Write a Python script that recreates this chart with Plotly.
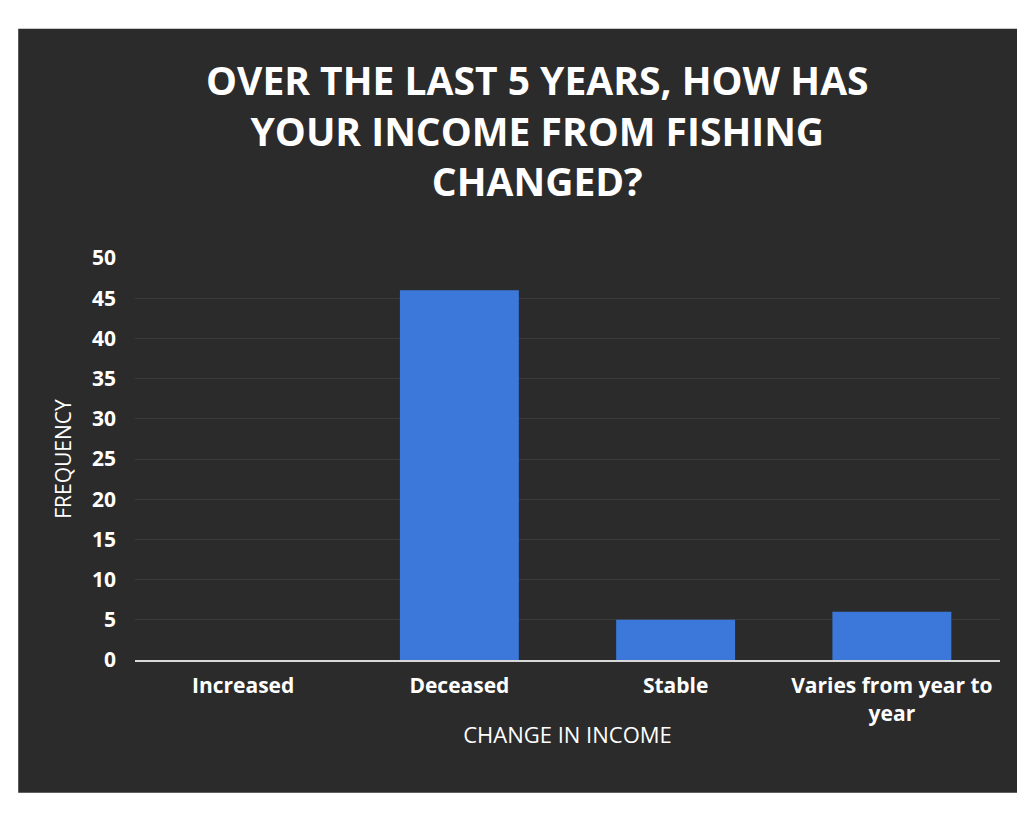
import plotly.graph_objects as go

categories = ["Increased", "Deceased", "Stable", "Varies from year to<br>year"]
frequency = [0, 46, 5, 6]
y_ticks = [0, 5, 10, 15, 20, 25, 30, 35, 40, 45, 50]

FONT = "Open Sans"

fig = go.Figure()
fig.add_trace(go.Bar(
    x=categories, y=frequency,
    marker=dict(color="#3b78da", line=dict(width=0)),
    width=0.55,
))

fig.update_layout(
    width=1025, height=816,
    margin=dict(l=127, r=33, t=250, b=164),
    paper_bgcolor="white",
    plot_bgcolor="rgba(0,0,0,0)",
    showlegend=False,
    font=dict(family=FONT, color="white"),
    shapes=[dict(
        type="rect", xref="paper", yref="paper", layer="below",
        x0=-0.135, x1=1.05, y0=-0.33, y1=1.57,
        fillcolor="#2b2b2b", line=dict(width=0),
    )],
    annotations=[dict(
        text="OVER THE LAST 5 YEARS, HOW HAS<br>YOUR INCOME FROM FISHING<br>CHANGED?",
        xref="paper", yref="paper", x=0.465, y=1.515,
        xanchor="center", yanchor="top", showarrow=False,
        font=dict(family=FONT, size=39, color="white", weight="bold"),
    )],
)

fig.update_xaxes(
    automargin=False,
    tickfont=dict(family=FONT, size=21, color="white", weight="bold"),
    title=dict(text="CHANGE IN INCOME", font=dict(family=FONT, size=22, color="white"), standoff=2),
    showgrid=False, showline=True, linecolor="#d9d9d9", linewidth=2,
    ticks="", ticklabelstandoff=6,
)
fig.update_yaxes(
    automargin=False,
    range=[0, 50], tickvals=y_ticks,
    tickfont=dict(family=FONT, size=21, color="white", weight="bold"),
    title=dict(text="FREQUENCY", font=dict(family=FONT, size=21, color="white"), standoff=14),
    showgrid=True, gridcolor="rgba(255,255,255,0.08)", gridwidth=1,
    zeroline=False, ticks="", ticklabelstandoff=18,
)

fig.write_html("out.html")
